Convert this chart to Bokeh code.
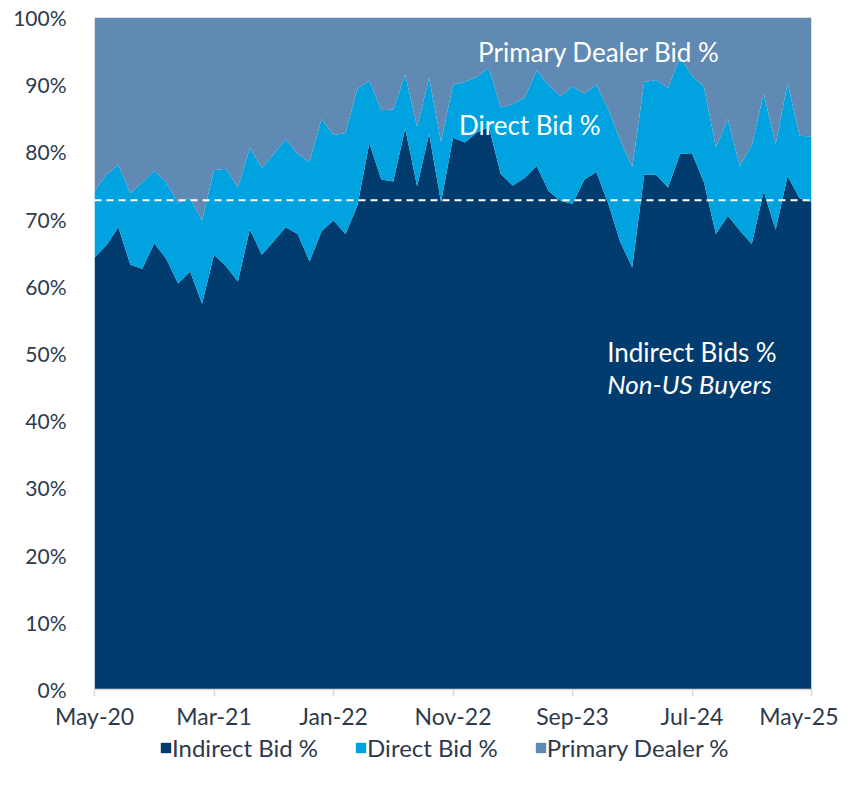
from bokeh.plotting import figure
from bokeh.layouts import column
from bokeh.models import (ColumnDataSource, Range1d, FixedTicker, PrintfTickFormatter,
                          Span, Label, Legend, LegendItem)
from bokeh.embed import file_html
from bokeh.resources import INLINE

# ---- data (monthly auctions, May-20 .. May-25), % of accepted bids ----
indirect = [64.3, 66.1, 68.8, 63.2, 62.6, 66.4, 64.1, 60.4, 62.2, 57.4,
            64.7, 63.0, 60.7, 68.5, 64.7, 66.7, 68.8, 67.8, 63.7, 68.2,
            69.8, 67.8, 72.0, 81.3, 75.9, 75.6, 83.5, 74.9, 82.7, 72.5,
            82.1, 81.4, 82.9, 83.7, 76.7, 75.0, 76.1, 77.9, 74.2, 72.7,
            72.3, 75.9, 77.0, 72.3, 66.6, 62.8, 76.6, 76.6, 74.7, 79.7,
            79.8, 75.5, 67.8, 70.5, 68.3, 66.3, 74.1, 68.4, 76.4, 73.1, 72.6]
direct = [9.9, 10.5, 9.3, 10.6, 12.9, 10.8, 11.4, 12.0, 10.9, 12.4,
          12.6, 14.5, 14.0, 12.1, 12.9, 13.0, 13.1, 11.9, 14.8, 16.7,
          12.7, 15.0, 17.4, 9.3, 10.3, 10.7, 8.0, 8.8, 8.3, 9.0,
          7.9, 9.0, 8.3, 8.8, 9.9, 12.1, 12.0, 14.2, 15.7, 15.6,
          17.4, 12.8, 13.0, 14.0, 15.1, 14.9, 13.8, 14.1, 14.8, 14.4,
          11.5, 14.2, 12.9, 14.4, 9.6, 14.7, 14.6, 12.7, 13.9, 9.3, 9.7]
dealer = [25.8, 23.4, 21.9, 26.2, 24.5, 22.8, 24.5, 27.6, 26.9, 30.2,
          22.7, 22.5, 25.3, 19.4, 22.4, 20.3, 18.1, 20.3, 21.5, 15.1,
          17.5, 17.2, 10.6, 9.4, 13.8, 13.7, 8.5, 16.3, 9.0, 18.5,
          10.0, 9.6, 8.8, 7.5, 13.4, 12.9, 11.9, 7.9, 10.1, 11.7,
          10.3, 11.3, 10.0, 13.7, 18.3, 22.3, 9.6, 9.3, 10.5, 5.9,
          8.7, 10.3, 19.3, 15.1, 22.1, 19.0, 11.3, 18.9, 9.7, 17.6, 17.7]
months = list(range(len(indirect)))
tick_positions = [0, 10, 20, 30, 40, 50, 60]
tick_labels = ["May-20", "Mar-21", "Jan-22", "Nov-22", "Sep-23", "Jul-24", "May-25"]
avg_indirect = 72.8
series_names = ["Indirect Bid %", "Direct Bid %", "Primary Dealer %"]
colors = ["#023C6F", "#00A3DF", "#6089B3"]

src = ColumnDataSource(dict(x=months, indirect=indirect, direct=direct, dealer=dealer))

FONT = "Lato"
TXT = "#2E3A4B"

p = figure(width=838, height=732, output_backend="svg", toolbar_location=None,
           x_range=Range1d(0, len(months) - 1), y_range=Range1d(0, 100),
           min_border_left=94, min_border_right=27, min_border_top=17, min_border_bottom=43)

renderers = p.varea_stack(stackers=["indirect", "direct", "dealer"], x="x",
                          color=colors, source=src)

p.add_layout(Span(location=avg_indirect, dimension="width", line_color="white",
                  line_width=2, line_dash="7 5"))

p.xgrid.visible = False
p.ygrid.visible = False
p.outline_line_color = None
p.background_fill_color = "white"

# y axis
p.yaxis.ticker = FixedTicker(ticks=list(range(0, 101, 10)))
p.yaxis.formatter = PrintfTickFormatter(format="%d%%")
p.yaxis.axis_line_color = None
p.yaxis.major_tick_line_color = None
p.yaxis.minor_tick_line_color = None
p.yaxis.major_label_standoff = 22
p.yaxis.major_label_text_font = FONT
p.yaxis.major_label_text_font_size = "21px"
p.yaxis.major_label_text_color = TXT

# x axis
p.xaxis.ticker = FixedTicker(ticks=tick_positions)
p.xaxis.major_label_overrides = {t: l for t, l in zip(tick_positions, tick_labels)}
p.xaxis.axis_line_color = "#D9D9D9"
p.xaxis.axis_line_width = 1.5
p.xaxis.major_tick_line_color = "#D9D9D9"
p.xaxis.major_tick_line_width = 1.5
p.xaxis.major_tick_in = 0
p.xaxis.major_tick_out = 7
p.xaxis.minor_tick_line_color = None
p.xaxis.major_label_standoff = 5
p.xaxis.major_label_text_font = FONT
p.xaxis.major_label_text_font_size = "23px"
p.xaxis.major_label_text_color = TXT

# in-chart labels
for txt, x, y, style in [("Primary Dealer Bid %", 32.1, 94.8, "normal"),
                         ("Direct Bid %", 30.5, 84.0, "normal"),
                         ("Indirect Bids %", 42.9, 50.2, "normal"),
                         ("Non-US Buyers", 42.9, 45.5, "italic")]:
    p.add_layout(Label(x=x, y=y, text=txt, text_color="white", text_font=FONT,
                       text_font_size="26px", text_font_style=style,
                       text_baseline="alphabetic", text_align="left"))

# legend strip underneath the chart (its frame is aligned with the chart's frame)
lg = figure(width=838, height=37, output_backend="svg", toolbar_location=None,
            x_range=Range1d(0, 1), y_range=Range1d(0, 1),
            x_axis_location=None, y_axis_location=None, min_border=0)
lg.outline_line_color = None
lg.xgrid.visible = False
lg.ygrid.visible = False
# an off-screen patch per renderer so that the legend swatches get a fill
offscreen = ColumnDataSource(dict(x=[5, 6], y1=[5, 5], y2=[6, 6]))
legend_renderers = [lg.varea(x="x", y1="y1", y2="y2", fill_color=c, source=offscreen)
                    for c in colors]
legend = Legend(items=[LegendItem(label=n, renderers=[r]) for n, r in zip(series_names, legend_renderers)],
                orientation="horizontal", location=(65, 7),
                label_text_font=FONT, label_text_font_size="24px", label_text_color=TXT,
                glyph_width=13, glyph_height=13, label_standoff=0, spacing=36,
                padding=0, margin=0, border_line_color=None, background_fill_alpha=0)
lg.add_layout(legend, "center")

layout = column(p, lg, spacing=0)
open("out.html", "w").write(file_html(layout, INLINE))
